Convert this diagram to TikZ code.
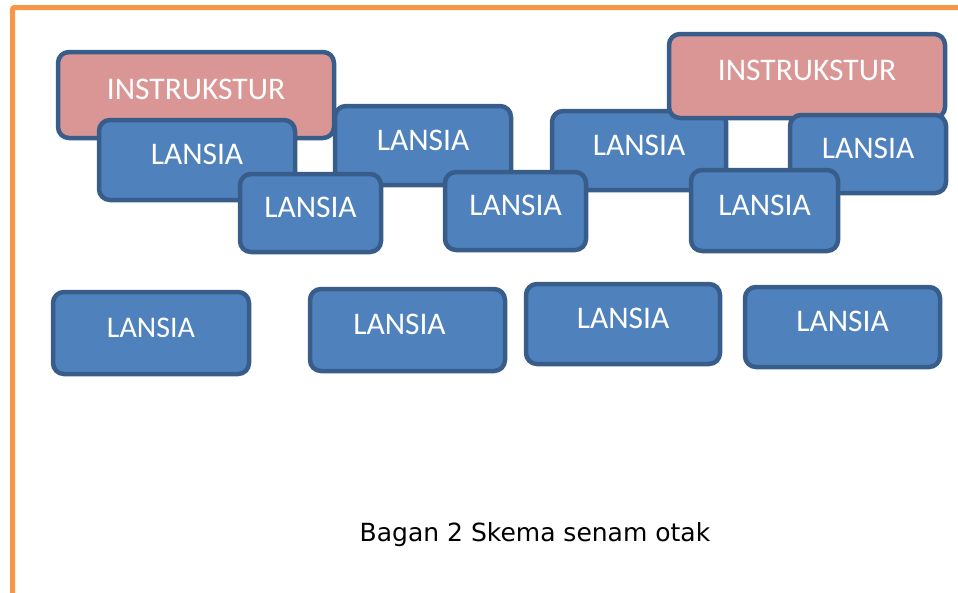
\documentclass[tikz,border=0pt]{standalone}
\usepackage{fontspec}
\setmainfont{Carlito}
\newfontfamily\captionfont{DejaVu Sans}
\definecolor{boxblue}{HTML}{4F81BD}
\definecolor{boxedge}{HTML}{385D8A}
\definecolor{boxpink}{HTML}{D99694}
\definecolor{frameorange}{HTML}{F79646}

\begin{document}
\begin{tikzpicture}[x=1pt, y=-1pt,
        lansia/.style={draw=boxedge, fill=boxblue, line width=4.5pt,
            rounded corners=11pt, text=white, inner sep=0pt,
            font=\fontsize{31.5}{38}\selectfont,
            text height=21pt, text depth=12pt},
        instr/.style={lansia, fill=boxpink}]
        \useasboundingbox (0,0) rectangle (958,592);

        % 1. The orange frame (left and top)
        \draw[frameorange, line width=5pt, rounded corners=2pt]
            (12.5,594) -- (12.5,7.5) -- (960,7.5);

        % 2. Top group (drawn back to front)
        \node[instr, minimum width=276pt, minimum height=86pt] (IL) at (196,95) {INSTRUKSTUR};
        \node[lansia, minimum width=196pt, minimum height=80pt] (L1) at (197,160) {LANSIA};
        \node[lansia, minimum width=176pt, minimum height=79pt] (L3) at (423,145.5) {LANSIA};
        \node[lansia, minimum width=141pt, minimum height=78pt] (L2) at (310.5,213) {LANSIA};
        \node[lansia, minimum width=174pt, minimum height=79pt] (L4) at (639,150.5) {LANSIA};
        \node[lansia, minimum width=141pt, minimum height=78pt] (L5) at (515.5,211) {LANSIA};
        \node[instr, minimum width=276pt, minimum height=84pt] (IR) at (807,76) {INSTRUKSTUR};
        \node[lansia, minimum width=156pt, minimum height=78pt] (L6) at (868,154) {LANSIA};
        \node[lansia, minimum width=147pt, minimum height=81pt] (L7) at (764.5,210.5) {LANSIA};

        % 3. Bottom row
        \node[lansia, minimum width=196pt, minimum height=82pt,
            font=\fontsize{30}{36}\selectfont] (B1) at (151,333) {LANSIA};
        \node[lansia, minimum width=195pt, minimum height=82pt] (B2) at (407.5,330) {LANSIA\kern16pt};
        \node[lansia, minimum width=194pt, minimum height=80pt] (B3) at (623,324) {LANSIA};
        \node[lansia, minimum width=195pt, minimum height=80pt] (B4) at (842.5,327) {LANSIA};

        % 4. Caption
        \node[anchor=base, inner sep=0pt, font=\captionfont\fontsize{25}{30}\selectfont]
            (cap) at (535,541) {Bagan 2 Skema senam otak};
    \end{tikzpicture}
\end{document}
